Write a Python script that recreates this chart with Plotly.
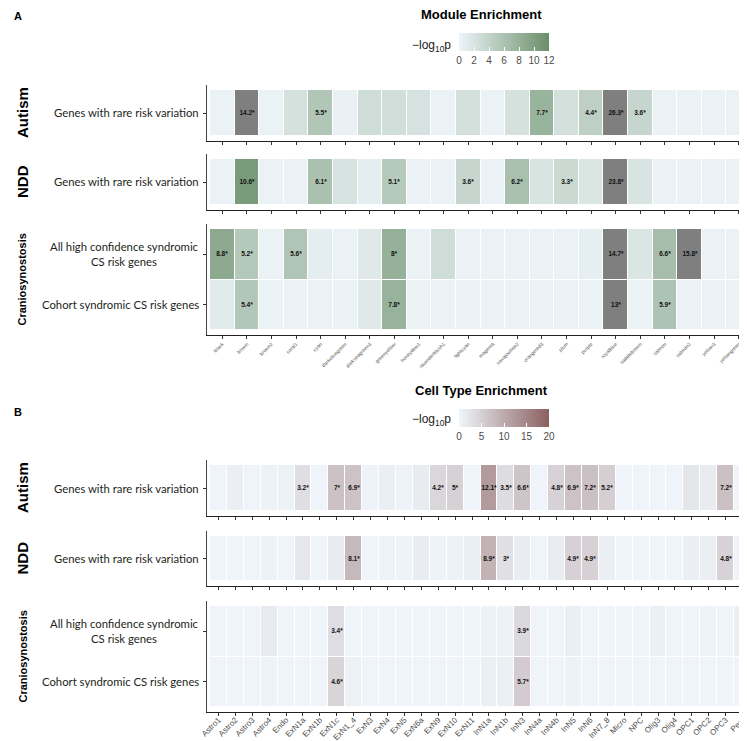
import plotly.graph_objects as go

W, H = 747, 741

# ---- panel A: module enrichment (-log10 p) ----
modules = ["black", "brown", "brown2", "coral1", "cyan", "darkolivegreen", "darkseagreen3",
           "greenyellow", "honeydew1", "lavenderblush1", "lightcyan", "magenta", "navajowhite2",
           "orangered3", "plum", "purple", "royalblue", "saddlebrown", "salmon", "salmon2",
           "yellow3", "yellowgreen"]
autism_modules = [0.4, 14.2, 0.4, 2.4, 5.5, 0.5, 2.8, 2.6, 2.2, 0.4, 2.5, 0.3, 2.4, 7.7,
                  2.5, 4.4, 26.3, 3.6, 0.3, 0.3, 0.3, 0.3]
ndd_modules = [0.4, 10.6, 0.4, 0.4, 6.1, 2.2, 0.9, 5.1, 0.4, 0.4, 3.6, 0.4, 6.2, 2.0,
               3.3, 1.8, 23.8, 2.0, 0.3, 0.3, 0.3, 0.3]
cs_all_modules = [8.8, 5.2, 0.4, 5.6, 0.9, 0.4, 1.4, 8.0, 0.4, 2.8, 0.3, 0.3, 0.3, 0.3,
                  0.3, 0.8, 14.7, 1.8, 6.6, 15.8, 0.3, 0.3]
cs_cohort_modules = [1.2, 5.4, 0.3, 0.4, 0.4, 0.4, 1.4, 7.8, 0.3, 0.3, 0.3, 0.3, 0.3, 0.3,
                     0.3, 0.3, 13.0, 0.3, 5.9, 0.3, 0.3, 0.3]
module_ticks = [0, 2, 4, 6, 8, 10, 12]

# ---- panel B: cell type enrichment (-log10 p) ----
cell_types = ["Astro1", "Astro2", "Astro3", "Astro4", "Endo", "ExN1a", "ExN1b", "ExN1c",
              "ExN1_4", "ExN3", "ExN4", "ExN5", "ExN6a", "ExN9", "ExN10", "ExN11", "InN1a",
              "InN1b", "InN3", "InN4a", "InN4b", "InN5", "InN6", "InN7_8", "Micro", "NPC",
              "Olig3", "Olig4", "OPC1", "OPC2", "OPC3", "Perc"]
autism_cells = [0.3, 0.9, 0.3, 0.5, 0.6, 3.2, 0.3, 7.0, 6.9, 0.4, 1.0, 0.4, 1.4, 4.2, 5.0, 0.3,
                12.1, 3.5, 6.6, 0.3, 4.8, 6.9, 7.2, 5.2, 0.1, 0.3, 0.3, 0.3, 2.2, 1.4, 7.2, 0.3]
ndd_cells = [0.3, 0.3, 0.3, 0.5, 0.3, 2.0, 0.3, 1.5, 8.1, 0.3, 0.4, 0.4, 1.2, 0.4, 0.6, 1.0,
             8.9, 3.0, 1.3, 0.3, 1.2, 4.9, 4.9, 1.0, 0.3, 0.3, 0.3, 0.3, 0.9, 0.9, 4.8, 0.4]
cs_all_cells = [0.3, 0.3, 0.3, 1.6, 0.3, 0.3, 0.3, 3.4, 0.3, 0.3, 0.3, 0.3, 0.3, 0.3, 0.3, 0.3,
                0.6, 0.6, 3.9, 0.3, 0.3, 1.0, 0.3, 0.3, 0.3, 0.3, 0.8, 0.3, 0.3, 0.4, 0.3, 0.9]
cs_cohort_cells = [0.3, 0.3, 0.3, 0.4, 0.3, 0.3, 0.3, 4.6, 0.7, 0.3, 0.3, 0.3, 0.3, 0.3, 0.3,
                   0.3, 0.8, 0.8, 5.7, 0.3, 0.3, 0.6, 0.3, 0.3, 0.3, 0.3, 0.3, 0.3, 0.3, 0.3, 0.3, 0.3]
cell_ticks = [0, 5, 10, 15, 20]

rare_label = "Genes with rare risk variation"
cs_labels = ["All high confidence syndromic<br>CS risk genes", "Cohort syndromic CS risk genes"]

SIG = 3.0
A_MAX, B_MAX = 12, 20
GREEN = [[0, "#eef5fa"], [1, "#6a8f69"]]
BROWN = [[0, "#eff6fb"], [1, "#8b6060"]]
GREY = "#7f7f7f"
LBL_FONT = "Lato"
SANS = "Liberation Sans"


def px_x(x):
    return x / W


def px_y(y):
    return 1 - y / H


def star(v):
    return f"{v:g}*" if v >= SIG else ""


fig = go.Figure()
annotations = []

# (panel, group, row labels, rows, tile top px, tile bottom px, show x labels)
panels = [
    ("A", "Autism", [rare_label], [autism_modules], 82, 128, False),
    ("A", "NDD", [rare_label], [ndd_modules], 151, 197, False),
    ("A", "Craniosynostosis", cs_labels, [cs_all_modules, cs_cohort_modules], 221, 322, True),
    ("B", "Autism", [rare_label], [autism_cells], 457, 503, False),
    ("B", "NDD", [rare_label], [ndd_cells], 528, 573, False),
    ("B", "Craniosynostosis", cs_labels, [cs_all_cells, cs_cohort_cells], 598, 699, True),
]

cell_font = dict(family=SANS, size=6.5, color="#111")

for i, (pan, group, labels, rows, top, bot, show_x) in enumerate(panels, start=1):
    xa, ya = f"x{i}", f"y{i}"
    cats = modules if pan == "A" else cell_types
    n, nr = len(cats), len(rows)
    x0, x1 = 202, 743
    cell_w = (x1 - x0) / n
    row_h = (bot - top) / nr
    pad = 5
    xs = list(range(n))
    ys = list(range(nr))

    if pan == "A":
        z_main = [[v if v <= A_MAX else None for v in r] for r in rows]
        t_main = [[star(v) if v <= A_MAX else "" for v in r] for r in rows]
        z_over = [[1 if v > A_MAX else None for v in r] for r in rows]
        t_over = [[star(v) if v > A_MAX else "" for v in r] for r in rows]
        fig.add_trace(go.Heatmap(x=xs, y=ys, z=z_main, text=t_main, texttemplate="<b>%{text}</b>",
                                 textfont=cell_font, coloraxis="coloraxis", xgap=1, ygap=1,
                                 xaxis=xa, yaxis=ya, hoverinfo="skip"))
        fig.add_trace(go.Heatmap(x=xs, y=ys, z=z_over, text=t_over, texttemplate="<b>%{text}</b>",
                                 textfont=cell_font, colorscale=[[0, GREY], [1, GREY]],
                                 showscale=False, zmin=0, zmax=1, xgap=1, ygap=1,
                                 xaxis=xa, yaxis=ya, hoverinfo="skip"))
        tick_font = dict(family=SANS, size=5, color="#555")
        standoff = 0
    else:
        t_main = [[star(v) for v in r] for r in rows]
        fig.add_trace(go.Heatmap(x=xs, y=ys, z=rows, text=t_main, texttemplate="<b>%{text}</b>",
                                 textfont=cell_font, coloraxis="coloraxis2", xgap=1, ygap=1,
                                 xaxis=xa, yaxis=ya, hoverinfo="skip"))
        tick_font = dict(family=SANS, size=8, color="#4d4d4d")
        standoff = -4

    xpad = 3 / cell_w
    ypad = pad / row_h
    xkey = "xaxis" if i == 1 else f"xaxis{i}"
    ykey = "yaxis" if i == 1 else f"yaxis{i}"
    fig.layout[xkey] = dict(
        domain=[px_x(x0 - 3), px_x(x1 + 3)], range=[-0.5 - xpad, n - 0.5 + xpad],
        anchor=ya, tickmode="array", tickvals=xs, ticktext=cats, showticklabels=show_x,
        tickangle=-45, tickfont=tick_font, ticks="outside", ticklen=3, tickcolor="#333",
        ticklabelstandoff=standoff,
        showline=True, linecolor="#222", linewidth=1.3, showgrid=False, zeroline=False,
        automargin=False)
    fig.layout[ykey] = dict(
        domain=[px_y(bot + pad), px_y(top - pad)], range=[nr - 0.5 + ypad, -0.5 - ypad],
        anchor=xa, tickmode="array", tickvals=ys, showticklabels=False, ticks="outside",
        ticklen=3, tickcolor="#333", showline=True, linecolor="#444", linewidth=1,
        showgrid=False, zeroline=False, automargin=False)

    for j, lab in enumerate(labels):
        annotations.append(dict(xref="paper", yref=ya, x=px_x(193), y=j, text=lab,
                                xanchor="right", yanchor="middle", align="center",
                                showarrow=False,
                                font=dict(family=LBL_FONT, size=11.3, color="#231f20")))
    gsize = 11 if group == "Craniosynostosis" else 15
    annotations.append(dict(xref="paper", yref="paper", x=px_x(14),
                            y=px_y((top + bot) / 2), text=f"<b>{group}</b>", textangle=-90,
                            xanchor="center", yanchor="middle", showarrow=False,
                            font=dict(family=SANS, size=gsize, color="black")))

# panel letters, titles, colourbar titles
for letter, y in (("A", 8), ("B", 404)):
    annotations.append(dict(xref="paper", yref="paper", x=px_x(4), y=px_y(y), text=f"<b>{letter}</b>",
                            xanchor="left", yanchor="middle", showarrow=False,
                            font=dict(family=SANS, size=11, color="black")))
for title, y in (("Module Enrichment", 7), ("Cell Type Enrichment", 382)):
    annotations.append(dict(xref="paper", yref="paper", x=px_x(473), y=px_y(y), text=f"<b>{title}</b>",
                            xanchor="center", yanchor="middle", showarrow=False,
                            font=dict(family=SANS, size=13, color="black")))
for y in (38, 412):
    annotations.append(dict(xref="paper", yref="paper", x=px_x(445), y=px_y(y),
                            text="\u2212log<sub>10</sub>p", xanchor="right", yanchor="middle",
                            showarrow=False, font=dict(family=SANS, size=12, color="#222")))


def cbar(vals, y_top):
    return dict(orientation="h", x=px_x(451), xanchor="left", y=px_y(y_top), yanchor="top",
                len=90, lenmode="pixels", thickness=18, thicknessmode="pixels",
                xpad=0, ypad=0, outlinewidth=0, tickmode="array", tickvals=vals,
                ticks="inside", ticklen=4, tickcolor="white",
                tickfont=dict(family=SANS, size=10, color="#4d4d4d"))


fig.update_layout(
    width=W, height=H, margin=dict(l=0, r=0, t=0, b=0, autoexpand=False),
    paper_bgcolor="white", plot_bgcolor="white", showlegend=False,
    coloraxis=dict(colorscale=GREEN, cmin=0, cmax=A_MAX, colorbar=cbar(module_ticks, 25)),
    coloraxis2=dict(colorscale=BROWN, cmin=0, cmax=B_MAX, colorbar=cbar(cell_ticks, 401)),
    annotations=annotations,
)

fig.write_html("out.html")
